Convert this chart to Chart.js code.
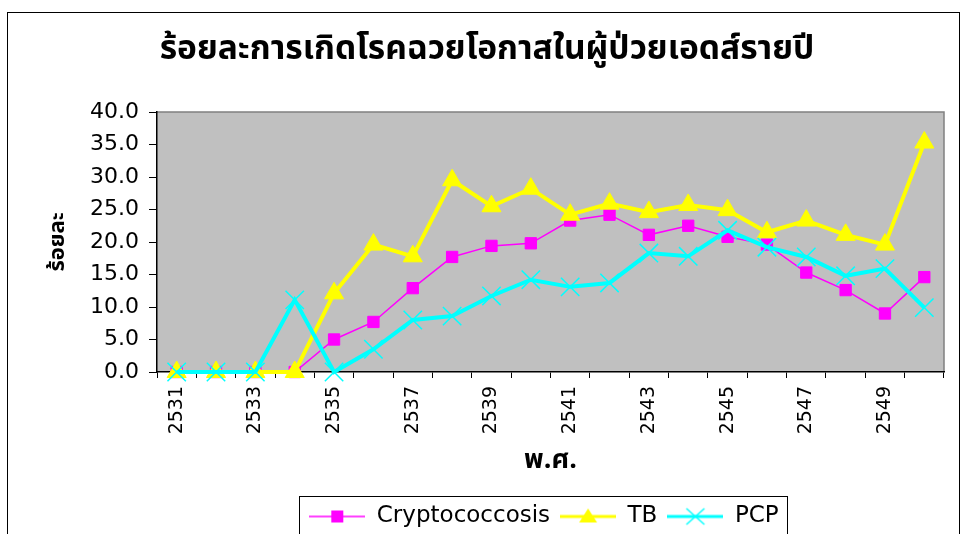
<!DOCTYPE html>
<html><head><meta charset="utf-8">
<script src="https://cdn.jsdelivr.net/npm/chart.js@4.4.1/dist/chart.umd.min.js"></script>
<style>html,body{margin:0;padding:0;background:#fff;overflow:hidden}#wrap{width:962px;height:534px;position:relative}</style>
</head><body><div id="wrap"><canvas id="c" width="962" height="534"></canvas></div>
<script>
const years = ['2531','2532','2533','2534','2535','2536','2537','2538','2539','2540','2541','2542','2543','2544','2545','2546','2547','2548','2549','2550'];
const cryptococcosis = [0,0,0,0,5.0,7.7,12.9,17.7,19.4,19.8,23.3,24.2,21.1,22.5,20.8,19.6,15.3,12.6,9.0,14.6];
const tb = [0,0,0,0,12.1,19.6,17.8,29.5,25.5,28.2,24.2,25.9,24.6,25.7,24.9,21.5,23.3,21.1,19.6,35.3];
const pcp = [0,0,0,11.1,0,3.5,8.0,8.6,11.7,14.2,13.1,13.7,18.3,17.8,21.8,19.2,17.7,14.8,15.9,9.9];
const seriesNames = ['Cryptococcosis','TB','PCP'];
const chartTitle = 'ร้อยละการเกิดโรคฉวยโอกาสในผู้ป่วยเอดส์รายปี';
const yTitle = 'ร้อยละ';
const xTitle = 'พ.ศ.';
const yMin = 0, yMax = 40, yStep = 5;

const THAI = "'Noto Sans Thai','Noto Sans Thai UI','Tahoma','Noto Sans','DejaVu Sans',sans-serif";
const LAT = "'DejaVu Sans',sans-serif";
const LEG_PAD = 10;

function swatch(color, lw, kind) {
  const c = document.createElement('canvas');
  c.width = 56; c.height = 24;
  const g = c.getContext('2d');
  g.strokeStyle = color; g.lineWidth = lw;
  g.beginPath(); g.moveTo(0, 12); g.lineTo(56, 12); g.stroke();
  g.fillStyle = color;
  if (kind === 'rect') { g.fillRect(22, 6, 12, 12); }
  else if (kind === 'tri') { g.beginPath(); g.moveTo(28, 4); g.lineTo(37, 18); g.lineTo(19, 18); g.closePath(); g.fill(); }
  else { g.lineWidth = 1.5; g.beginPath(); g.moveTo(19, 4); g.lineTo(37, 20); g.moveTo(37, 4); g.lineTo(19, 20); g.stroke(); }
  return c;
}
const swatches = [swatch('#FF00FF', 1.5, 'rect'), swatch('#FFFF00', 3, 'tri'), swatch('#00FFFF', 3, 'x')];

const decor = {
  id: 'decor',
  afterLayout(chart) {
    const l = chart.legend;
    if (l) { l.top += 4; l.bottom += 4; l.left += 72; l.right += 72; }
    const t = chart.titleBlock;
    if (t) { t.left += 15; t.right += 15; }
  },
  beforeDraw(chart) {
    const {ctx, chartArea: a} = chart;
    ctx.save();
    ctx.fillStyle = '#fff'; ctx.fillRect(0, 0, chart.width, chart.height);
    ctx.strokeStyle = '#000'; ctx.lineWidth = 1; ctx.strokeRect(7.5, 12.5, 952, 600);
    ctx.fillStyle = '#C0C0C0'; ctx.fillRect(a.left, a.top, a.right - a.left, a.bottom - a.top);
    ctx.strokeStyle = '#808080'; ctx.lineWidth = 1.5;
    ctx.beginPath(); ctx.moveTo(a.left, a.top); ctx.lineTo(a.right, a.top); ctx.lineTo(a.right, a.bottom); ctx.stroke();
    ctx.restore();
  },
  afterDraw(chart) {
    const l = chart.legend;
    const hb = l && l.legendHitBoxes;
    if (!hb || !hb.length) return;
    const ctx = chart.ctx;
    const itemsW = hb.reduce((s, h) => s + h.width, 0);
    const lineW = itemsW + LEG_PAD * hb.length;
    const start = (l.left + LEG_PAD + l.right - lineW) / 2;
    const L = start - 10, R = start + itemsW + LEG_PAD * (hb.length - 1) + 9;
    ctx.save(); ctx.strokeStyle = '#000'; ctx.lineWidth = 1;
    ctx.strokeRect(Math.round(L) + 0.5, 496.5, Math.round(R - L), 60);
    ctx.restore();
  }
};

new Chart(document.getElementById('c'), {
  type: 'line',
  data: {
    labels: years,
    datasets: [
      {label: seriesNames[0], data: cryptococcosis, borderColor: '#FF00FF', backgroundColor: '#FF00FF', borderWidth: 1.5,
       pointStyle: 'rect', pointRadius: 8, pointBorderWidth: 1, pointBackgroundColor: '#FF00FF', pointBorderColor: '#FF00FF', order: 3, clip: false},
      {label: seriesNames[1], data: tb, borderColor: '#FFFF00', backgroundColor: '#FFFF00', borderWidth: 4,
       pointStyle: 'triangle', pointRadius: 11, pointBorderWidth: 1, pointBackgroundColor: '#FFFF00', pointBorderColor: '#FFFF00', order: 2, clip: false},
      {label: seriesNames[2], data: pcp, borderColor: '#00FFFF', backgroundColor: '#00FFFF', borderWidth: 4,
       pointStyle: 'crossRot', pointRadius: 13, pointBorderWidth: 1.5, pointBorderColor: '#00FFFF', order: 1, clip: false}
    ]
  },
  options: {
    responsive: false, animation: false, devicePixelRatio: 1, events: [],
    layout: {padding: {left: 0, right: 18, top: 0, bottom: 0}},
    scales: {
      x: {
        offset: true,
        ticks: {autoSkip: false, minRotation: 90, maxRotation: 90, color: '#000', padding: 8,
                font: {family: LAT, size: 19}, callback: (v, i) => (i % 2 === 0 ? years[i] : '')},
        grid: {offset: true, drawOnChartArea: false, drawTicks: true, tickLength: 6, color: '#000'},
        border: {display: true, color: '#000', width: 1.5},
        title: {display: true, text: xTitle, color: '#000', font: {family: THAI, size: 27, weight: 'bold'}, padding: {top: 0, bottom: 12}},
        afterFit: s => { s.height = 119; }
      },
      y: {
        min: yMin, max: yMax,
        ticks: {stepSize: yStep, color: '#000', padding: 10, font: {family: LAT, size: 22}, callback: v => Number(v).toFixed(1)},
        grid: {drawOnChartArea: false, drawTicks: true, tickLength: 8, color: '#000'},
        border: {display: true, color: '#000', width: 1.5},
        title: {display: true, text: yTitle, color: '#000', font: {family: THAI, size: 22, weight: 'bold'}, padding: {top: 46, bottom: 0}},
        afterFit: s => { s.width = 157; }
      }
    },
    plugins: {
      title: {display: true, text: chartTitle, color: '#000', font: {family: THAI, size: 33.5, weight: 'bold'}, padding: {top: 32, bottom: 39.8}},
      legend: {
        position: 'bottom', align: 'center',
        labels: {
          usePointStyle: true, pointStyleWidth: 56, boxHeight: 23, color: '#000', padding: LEG_PAD,
          font: {family: LAT, size: 23},
          generateLabels: () => seriesNames.map((n, i) => ({text: n, pointStyle: swatches[i], fillStyle: 'transparent', strokeStyle: 'transparent', lineWidth: 0, fontColor: '#000', hidden: false, datasetIndex: i}))
        }
      },
      tooltip: {enabled: false}
    }
  },
  plugins: [decor]
});
</script>
</body></html>
